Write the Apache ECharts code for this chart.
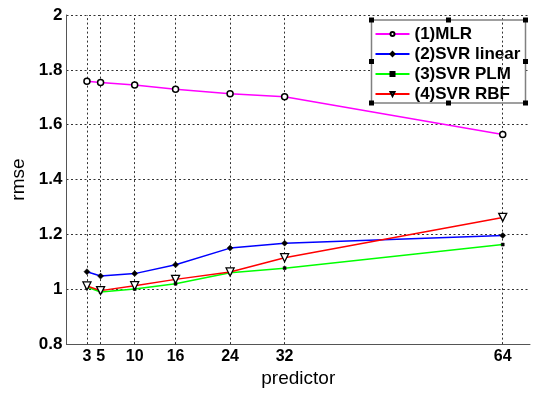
<!DOCTYPE html>
<html>
<head>
<meta charset="utf-8">
<script src="https://cdn.jsdelivr.net/npm/echarts@6/dist/echarts.min.js"></script>
<style>html,body{margin:0;padding:0;background:#fff}#c{width:534px;height:393px}</style>
</head>
<body>
<div id="c"></div>
<script>
var predictors = [3, 5, 10, 16, 24, 32, 64];
var seriesNames = ['(1)MLR', '(2)SVR linear', '(3)SVR PLM', '(4)SVR RBF'];
var mlr = [1.758, 1.754, 1.745, 1.729, 1.713, 1.702, 1.564];
var svrLinear = [1.064, 1.048, 1.057, 1.089, 1.150, 1.168, 1.196];
var svrPlm = [1.008, 0.990, 1.001, 1.020, 1.060, 1.077, 1.163];
var svrRbf = [1.012, 0.995, 1.013, 1.036, 1.063, 1.115, 1.262];
var yTicks = [0.8, 1, 1.2, 1.4, 1.6, 1.8, 2];

function pts(v) { return predictors.map(function (x, i) { return [x, v[i]]; }); }

var FONT = '"Liberation Sans", Arial, sans-serif';
var chart = echarts.init(document.getElementById('c'), null, { renderer: 'canvas' });

var GL = 66.5, GR = 530, GT = 15, GB = 351;
var LX0 = 371.5, LX1 = 525.5, LY0 = 20, LY1 = 103;
function handle(x, y) {
  return { type: 'rect', shape: { x: x - 2.5, y: y - 2.5, width: 5, height: 5 }, style: { fill: '#000' }, z: 100 };
}

chart.setOption({
  animation: false,
  backgroundColor: '#fff',
  grid: { left: GL, right: 534 - GR, top: GT, bottom: 393 - GB, containLabel: false },
  xAxis: {
    type: 'value', min: 0, max: 68,
    name: 'predictor', nameLocation: 'middle', nameGap: 18,
    nameTextStyle: { fontFamily: FONT, fontSize: 19, color: '#000' },
    axisLine: { show: true, lineStyle: { color: '#555', width: 1 } },
    axisTick: { show: false },
    splitLine: { show: false },
    axisLabel: {
      customValues: predictors,
      fontFamily: FONT, fontSize: 16, fontWeight: 'bold', color: '#000', margin: 4,
      formatter: function (v) { return String(v); }
    }
  },
  yAxis: {
    type: 'value', min: 0.8, max: 2, interval: 0.2,
    name: 'rmse', nameLocation: 'middle', nameGap: 32,
    nameTextStyle: { fontFamily: FONT, fontSize: 19, color: '#000' },
    axisLine: { show: true, lineStyle: { color: '#555', width: 1 } },
    axisTick: { show: false },
    splitLine: { show: true, lineStyle: { color: '#333', type: [2, 2.5], width: 1 } },
    axisLabel: {
      fontFamily: FONT, fontSize: 17, fontWeight: 'bold', color: '#000', margin: 4,
      formatter: function (v) {
        var r = Math.round(v * 10) / 10;
        return yTicks.indexOf(r) >= 0 ? String(r) : '';
      }
    }
  },
  legend: {
    orient: 'vertical', left: LX0, top: LY0,
    data: seriesNames,
    itemWidth: 34, itemHeight: 5, itemGap: 0,
    padding: [4, 4, 0, 3],
    width: LX1 - LX0, height: LY1 - LY0,
    backgroundColor: '#fff',
    borderColor: '#808080', borderWidth: 0,
    textStyle: { fontFamily: FONT, fontSize: 17, fontWeight: 'bold', color: '#000', lineHeight: 20 }
  },
  graphic: [
    { type: 'rect', shape: { x: LX0, y: LY0, width: LX1 - LX0, height: LY1 - LY0 }, style: { fill: 'none', stroke: '#808080', lineWidth: 1.5 }, z: 99 },
    handle(LX0, LY0), handle(LX1, LY0), handle(LX0, LY1), handle(LX1, LY1),
    handle((LX0 + LX1) / 2, LY0), handle((LX0 + LX1) / 2, LY1),
    handle(LX0, (LY0 + LY1) / 2), handle(LX1, (LY0 + LY1) / 2)
  ],
  series: [
    {
      name: 'grid-x', type: 'line', data: [], silent: true,
      markLine: {
        silent: true, symbol: 'none', label: { show: false },
        lineStyle: { color: '#333', type: [2, 2.5], width: 1 },
        data: predictors.map(function (x) { return { xAxis: x }; }),
        animation: false
      },
      z: 1
    },
    {
      name: seriesNames[0], type: 'line', data: pts(mlr), z: 5,
      lineStyle: { color: '#ff00ff', width: 1.5 }, itemStyle: { color: '#fff', borderColor: '#000', borderWidth: 1.5 },
      symbol: 'circle', symbolSize: 6, showAllSymbol: true, color: '#ff00ff'
    },
    {
      name: seriesNames[1], type: 'line', data: pts(svrLinear), z: 5,
      lineStyle: { color: '#0000ff', width: 1.5 }, itemStyle: { color: '#000', borderColor: '#000', borderWidth: 0.5 },
      symbol: 'diamond', symbolSize: 6, color: '#0000ff'
    },
    {
      name: seriesNames[2], type: 'line', data: pts(svrPlm), z: 5,
      lineStyle: { color: '#00ff00', width: 1.5 }, itemStyle: { color: '#000', borderColor: '#000', borderWidth: 0.5 },
      symbol: 'rect', symbolSize: 3, color: '#00ff00'
    },
    {
      name: seriesNames[3], type: 'line', data: pts(svrRbf), z: 5,
      lineStyle: { color: '#ff0000', width: 1.5 }, itemStyle: { color: '#fff', borderColor: '#000', borderWidth: 1.3 },
      symbol: 'triangle', symbolRotate: 180, symbolSize: 8, color: '#ff0000'
    }
  ]
});
</script>
</body>
</html>
